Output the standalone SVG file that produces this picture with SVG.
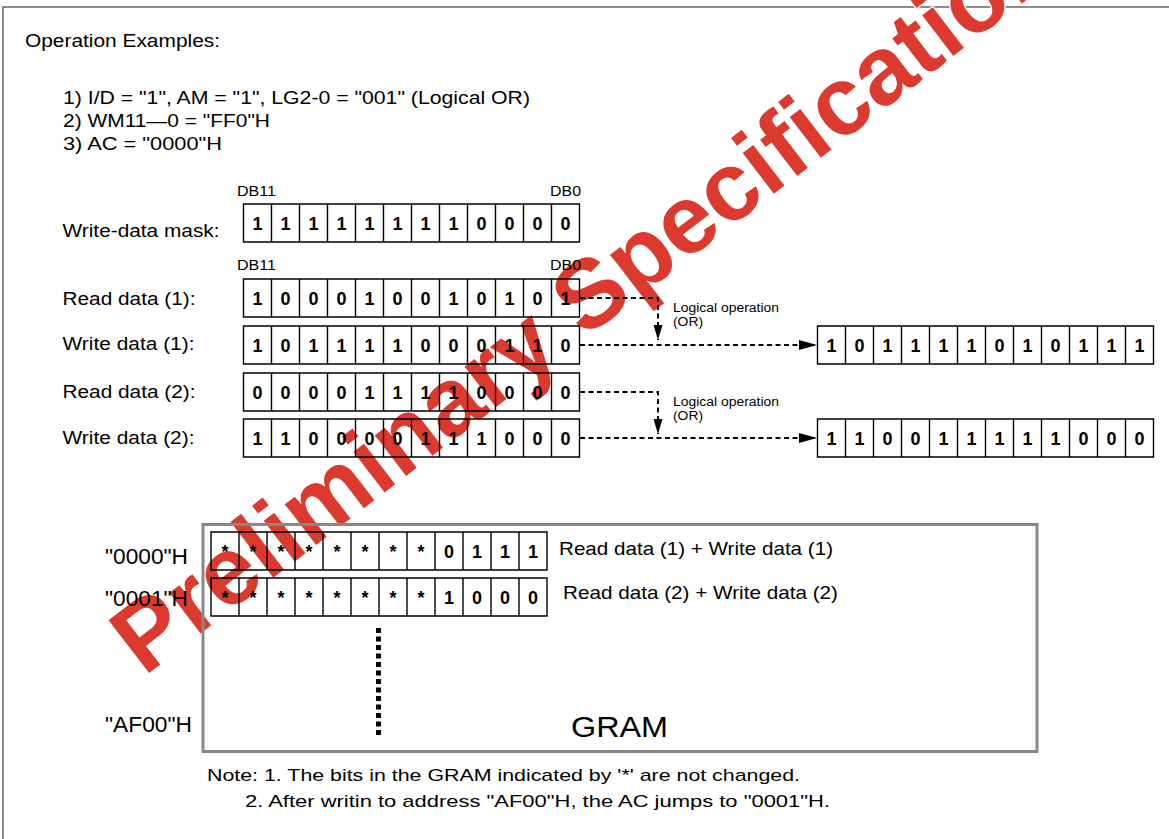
<svg xmlns="http://www.w3.org/2000/svg" width="1169" height="839" viewBox="0 0 1169 839">
<style>
.t{font-family:"Liberation Sans",Arial,sans-serif;fill:#000}
.lbl{font-size:17.5px}
.db{font-size:14px}
.sm{font-size:12px}
.bit{font-family:"Liberation Sans",Arial,sans-serif;font-weight:bold;font-size:18px;text-anchor:middle;fill:#000}
.box{fill:none;stroke:#000;stroke-width:1.4}
.dash{fill:none;stroke:#000;stroke-width:2;stroke-dasharray:5 3.5}
.wm{font-family:"Liberation Sans",Arial,sans-serif;font-weight:bold;font-size:97px;fill:#dc3a2f;stroke:#fff;stroke-width:2.5;paint-order:stroke}
</style>
<defs>
<path id="grid" d="M0 0H336V38H0Z M28 0V38 M56 0V38 M84 0V38 M112 0V38 M140 0V38 M168 0V38 M196 0V38 M224 0V38 M252 0V38 M280 0V38 M308 0V38"/>
<marker id="ahH" markerUnits="userSpaceOnUse" markerWidth="18" markerHeight="10" refX="18" refY="5" orient="auto"><path d="M0 0L18 5L0 10Z" fill="#000"/></marker>
<marker id="ahV" markerUnits="userSpaceOnUse" markerWidth="15" markerHeight="9" refX="15" refY="4.5" orient="auto"><path d="M0 0L15 4.5L0 9Z" fill="#000"/></marker>
</defs>
<rect width="1169" height="839" fill="#fff"/>
<rect x="3" y="7" width="1200" height="900" fill="none" stroke="#666" stroke-width="1.5"/>

<g id="watermark">
<text class="wm" transform="translate(144 677) rotate(-37.5)">Preliminary Specification</text>
</g>

<g id="header">
<text class="t lbl" x="25" y="47" textLength="195" lengthAdjust="spacingAndGlyphs">Operation Examples:</text>
<text class="t lbl" x="63" y="104" textLength="467" lengthAdjust="spacingAndGlyphs">1) I/D =  "1", AM = "1",  LG2-0 = "001" (Logical OR)</text>
<text class="t lbl" x="63" y="127" textLength="207" lengthAdjust="spacingAndGlyphs">2) WM11—0 = "FF0"H</text>
<text class="t lbl" x="63" y="150" textLength="159" lengthAdjust="spacingAndGlyphs">3) AC =  "0000"H</text>
</g>

<g id="row-labels">
<text class="t db" x="237" y="196" textLength="39" lengthAdjust="spacingAndGlyphs">DB11</text>
<text class="t db" x="550" y="196" textLength="31" lengthAdjust="spacingAndGlyphs">DB0</text>
<text class="t db" x="237" y="270" textLength="39" lengthAdjust="spacingAndGlyphs">DB11</text>
<text class="t db" x="550" y="270" textLength="31" lengthAdjust="spacingAndGlyphs">DB0</text>
<text class="t lbl" x="62.5" y="237" textLength="157" lengthAdjust="spacingAndGlyphs">Write-data mask:</text>
<text class="t lbl" x="62.5" y="305" textLength="133" lengthAdjust="spacingAndGlyphs">Read data (1):</text>
<text class="t lbl" x="62.5" y="350" textLength="132" lengthAdjust="spacingAndGlyphs">Write data (1):</text>
<text class="t lbl" x="62.5" y="398" textLength="133" lengthAdjust="spacingAndGlyphs">Read data (2):</text>
<text class="t lbl" x="62.5" y="444" textLength="132" lengthAdjust="spacingAndGlyphs">Write data (2):</text>
</g>

<g id="mask" transform="translate(243.5 204)">
<use href="#grid" class="box"/>
<text class="bit" x="14" y="25.5">1</text><text class="bit" x="42" y="25.5">1</text><text class="bit" x="70" y="25.5">1</text><text class="bit" x="98" y="25.5">1</text><text class="bit" x="126" y="25.5">1</text><text class="bit" x="154" y="25.5">1</text><text class="bit" x="182" y="25.5">1</text><text class="bit" x="210" y="25.5">1</text><text class="bit" x="238" y="25.5">0</text><text class="bit" x="266" y="25.5">0</text><text class="bit" x="294" y="25.5">0</text><text class="bit" x="322" y="25.5">0</text>
</g>

<g id="read1" transform="translate(243.5 279)">
<use href="#grid" class="box"/>
<text class="bit" x="14" y="25.5">1</text><text class="bit" x="42" y="25.5">0</text><text class="bit" x="70" y="25.5">0</text><text class="bit" x="98" y="25.5">0</text><text class="bit" x="126" y="25.5">1</text><text class="bit" x="154" y="25.5">0</text><text class="bit" x="182" y="25.5">0</text><text class="bit" x="210" y="25.5">1</text><text class="bit" x="238" y="25.5">0</text><text class="bit" x="266" y="25.5">1</text><text class="bit" x="294" y="25.5">0</text><text class="bit" x="322" y="25.5">1</text>
</g>

<g id="write1" transform="translate(243.5 326)">
<use href="#grid" class="box"/>
<text class="bit" x="14" y="25.5">1</text><text class="bit" x="42" y="25.5">0</text><text class="bit" x="70" y="25.5">1</text><text class="bit" x="98" y="25.5">1</text><text class="bit" x="126" y="25.5">1</text><text class="bit" x="154" y="25.5">1</text><text class="bit" x="182" y="25.5">0</text><text class="bit" x="210" y="25.5">0</text><text class="bit" x="238" y="25.5">0</text><text class="bit" x="266" y="25.5">1</text><text class="bit" x="294" y="25.5">1</text><text class="bit" x="322" y="25.5">0</text>
</g>

<g id="read2" transform="translate(243.5 373)">
<use href="#grid" class="box"/>
<text class="bit" x="14" y="25.5">0</text><text class="bit" x="42" y="25.5">0</text><text class="bit" x="70" y="25.5">0</text><text class="bit" x="98" y="25.5">0</text><text class="bit" x="126" y="25.5">1</text><text class="bit" x="154" y="25.5">1</text><text class="bit" x="182" y="25.5">1</text><text class="bit" x="210" y="25.5">1</text><text class="bit" x="238" y="25.5">0</text><text class="bit" x="266" y="25.5">0</text><text class="bit" x="294" y="25.5">0</text><text class="bit" x="322" y="25.5">0</text>
</g>

<g id="write2" transform="translate(243.5 419)">
<use href="#grid" class="box"/>
<text class="bit" x="14" y="25.5">1</text><text class="bit" x="42" y="25.5">1</text><text class="bit" x="70" y="25.5">0</text><text class="bit" x="98" y="25.5">0</text><text class="bit" x="126" y="25.5">0</text><text class="bit" x="154" y="25.5">0</text><text class="bit" x="182" y="25.5">1</text><text class="bit" x="210" y="25.5">1</text><text class="bit" x="238" y="25.5">1</text><text class="bit" x="266" y="25.5">0</text><text class="bit" x="294" y="25.5">0</text><text class="bit" x="322" y="25.5">0</text>
</g>

<g id="result1" transform="translate(817.5 326)">
<use href="#grid" class="box"/>
<text class="bit" x="14" y="25.5">1</text><text class="bit" x="42" y="25.5">0</text><text class="bit" x="70" y="25.5">1</text><text class="bit" x="98" y="25.5">1</text><text class="bit" x="126" y="25.5">1</text><text class="bit" x="154" y="25.5">1</text><text class="bit" x="182" y="25.5">0</text><text class="bit" x="210" y="25.5">1</text><text class="bit" x="238" y="25.5">0</text><text class="bit" x="266" y="25.5">1</text><text class="bit" x="294" y="25.5">1</text><text class="bit" x="322" y="25.5">1</text>
</g>

<g id="result2" transform="translate(817.5 419)">
<use href="#grid" class="box"/>
<text class="bit" x="14" y="25.5">1</text><text class="bit" x="42" y="25.5">1</text><text class="bit" x="70" y="25.5">0</text><text class="bit" x="98" y="25.5">0</text><text class="bit" x="126" y="25.5">1</text><text class="bit" x="154" y="25.5">1</text><text class="bit" x="182" y="25.5">1</text><text class="bit" x="210" y="25.5">1</text><text class="bit" x="238" y="25.5">1</text><text class="bit" x="266" y="25.5">0</text><text class="bit" x="294" y="25.5">0</text><text class="bit" x="322" y="25.5">0</text>
</g>

<g id="connectors">
<path class="dash" d="M580 298H658V340" marker-end="url(#ahV)"/>
<path class="dash" d="M580 345H817" marker-end="url(#ahH)"/>
<path class="dash" d="M580 392H658V434" marker-end="url(#ahV)"/>
<path class="dash" d="M580 438H817" marker-end="url(#ahH)"/>
</g>

<g id="op-labels">
<text class="t sm" x="673" y="312" textLength="106" lengthAdjust="spacingAndGlyphs">Logical operation</text>
<text class="t sm" x="673" y="326" textLength="30" lengthAdjust="spacingAndGlyphs">(OR)</text>
<text class="t sm" x="673" y="406" textLength="106" lengthAdjust="spacingAndGlyphs">Logical operation</text>
<text class="t sm" x="673" y="420" textLength="30" lengthAdjust="spacingAndGlyphs">(OR)</text>
</g>

<g id="gram">
<rect x="203" y="524.5" width="834" height="227" fill="none" stroke="#888" stroke-width="3"/>
<path d="M378.5 628V736" fill="none" stroke="#000" stroke-width="5" stroke-dasharray="5 3.5"/>
<text class="t" x="571" y="737" font-size="30" textLength="97" lengthAdjust="spacingAndGlyphs">GRAM</text>
</g>

<g id="addr-labels">
<text class="t" x="105" y="564" font-size="22" textLength="83" lengthAdjust="spacingAndGlyphs">"0000"H</text>
<text class="t" x="105" y="606" font-size="22" textLength="83" lengthAdjust="spacingAndGlyphs">"0001"H</text>
<text class="t" x="105" y="732" font-size="22" textLength="87" lengthAdjust="spacingAndGlyphs">"AF00"H</text>
</g>

<g id="gram-row1" transform="translate(211 532)">
<use href="#grid" class="box"/>
<text class="bit" x="14" y="25.5">*</text><text class="bit" x="42" y="25.5">*</text><text class="bit" x="70" y="25.5">*</text><text class="bit" x="98" y="25.5">*</text><text class="bit" x="126" y="25.5">*</text><text class="bit" x="154" y="25.5">*</text><text class="bit" x="182" y="25.5">*</text><text class="bit" x="210" y="25.5">*</text><text class="bit" x="238" y="25.5">0</text><text class="bit" x="266" y="25.5">1</text><text class="bit" x="294" y="25.5">1</text><text class="bit" x="322" y="25.5">1</text>
</g>
<text class="t" x="559" y="555" font-size="18.5" textLength="274" lengthAdjust="spacingAndGlyphs">Read data (1) + Write data (1)</text>

<g id="gram-row2" transform="translate(211 578)">
<use href="#grid" class="box"/>
<text class="bit" x="14" y="25.5">*</text><text class="bit" x="42" y="25.5">*</text><text class="bit" x="70" y="25.5">*</text><text class="bit" x="98" y="25.5">*</text><text class="bit" x="126" y="25.5">*</text><text class="bit" x="154" y="25.5">*</text><text class="bit" x="182" y="25.5">*</text><text class="bit" x="210" y="25.5">*</text><text class="bit" x="238" y="25.5">1</text><text class="bit" x="266" y="25.5">0</text><text class="bit" x="294" y="25.5">0</text><text class="bit" x="322" y="25.5">0</text>
</g>
<text class="t" x="563" y="599" font-size="18.5" textLength="275" lengthAdjust="spacingAndGlyphs">Read data (2) + Write data (2)</text>

<g id="notes">
<text class="t" x="207" y="781" font-size="17" textLength="593" lengthAdjust="spacingAndGlyphs">Note:  1. The bits  in the GRAM indicated by '*' are not changed.</text>
<text class="t" x="245" y="807" font-size="17" textLength="585" lengthAdjust="spacingAndGlyphs">2. After writin to address "AF00"H, the AC jumps to "0001"H.</text>
</g>
</svg>
